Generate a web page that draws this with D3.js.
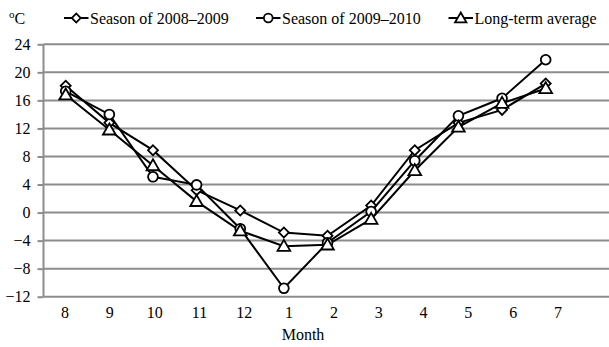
<!DOCTYPE html>
<html><head><meta charset="utf-8">
<script src="https://cdn.jsdelivr.net/npm/d3@7/dist/d3.min.js"></script>
<style>body{margin:0;background:#fff}svg text{font-family:"Liberation Serif","Times New Roman",serif !important;fill:#000}</style>
</head><body><svg id="c" width="609" height="347"></svg>
<script>
const months = ["8","9","10","11","12","1","2","3","4","5","6","7"];
const season0809 = [18.1,12.8,8.9,3.2,0.3,-2.85,-3.3,1.0,8.9,12.8,14.65,18.4];
const season0910 = [17.3,14.0,5.1,3.95,-2.3,-10.8,-4.3,0.15,7.4,13.8,16.3,21.8];
const longTerm   = [16.8,11.8,6.7,1.6,-2.6,-4.8,-4.6,-0.95,6.0,12.2,15.6,17.7];
const yTicks = [-12,-8,-4,0,4,8,12,16,20,24];
const seriesNames = ["Season of 2008\u20132009","Season of 2009\u20132010","Long-term average"];

const svg = d3.select("#c");
const y = d3.scaleLinear().domain([-12,24]).range([296.7,44.3]);
const x = d3.scalePoint().domain(months).range([65.7,545.7]);
const xl = d3.scalePoint().domain(months).range([65,558]);
const left = 43.5, right = 609;

svg.append("g").selectAll("line").data(yTicks).join("line")
  .attr("x1",left).attr("x2",right).attr("y1",d=>y(d)).attr("y2",d=>y(d))
  .attr("stroke","#8c8c8c").attr("stroke-width",2);
const ya = svg.append("g").attr("transform",`translate(${left},0)`)
  .call(d3.axisLeft(y).tickValues(yTicks).tickSize(6).tickPadding(7).tickFormat(d3.format("d")));
ya.attr("font-family",null);
ya.select(".domain").attr("stroke","#8c8c8c").attr("stroke-width",2).attr("d",`M0,${y(24)}V${y(-12)}`);
ya.selectAll(".tick line").attr("stroke","#8c8c8c").attr("stroke-width",2);
ya.selectAll("text").style("font-size","16px").style("font-family","Liberation Serif");
svg.append("g").selectAll("text").data(months).join("text")
  .attr("x",d=>xl(d)).attr("y",318).attr("text-anchor","middle").style("font-size","16px").text(d=>d);
svg.append("text").attr("x",303).attr("y",340).attr("text-anchor","middle").style("font-size","16px").text("Month");
const u = svg.append("text").attr("x",9).attr("y",24).style("font-size","16px");
u.append("tspan").text("o").attr("dy",-6).style("font-size","11px");
u.append("tspan").text("C").attr("dy",6);

const data = [season0809, season0910, longTerm];
const symbols = [d3.symbolSquare, d3.symbolCircle, d3.symbolTriangle];
const sizes = [50, 75, 70];
const rot = [45, 0, 0];
const dy = [0, 0, 1];
const line = d3.line().x((d,i)=>x(months[i])).y(d=>y(d));
data.forEach(s=>{
  svg.append("path").datum(s).attr("d",line).attr("fill","none").attr("stroke","#000").attr("stroke-width",2);
});
data.forEach((s,k)=>{
  svg.append("g").selectAll("path").data(s).join("path")
    .attr("transform",(d,i)=>`translate(${x(months[i])},${y(d)+dy[k]}) rotate(${rot[k]})`)
    .attr("d",d3.symbol(symbols[k],sizes[k])).attr("fill","#fff").attr("stroke","#000").attr("stroke-width",1.8);
});
const legX = [64,256,448.5];
seriesNames.forEach((n,k)=>{
  const g = svg.append("g").attr("transform",`translate(${legX[k]},18)`);
  g.append("line").attr("x1",0).attr("x2",24.5).attr("stroke","#000").attr("stroke-width",2);
  g.append("path").attr("transform",`translate(12.25,${dy[k]}) rotate(${rot[k]})`).attr("d",d3.symbol(symbols[k],sizes[k]*0.8))
    .attr("fill","#fff").attr("stroke","#000").attr("stroke-width",1.8);
  g.append("text").attr("x",26).attr("y",6).style("font-size","16px").text(n);
});
</script></body></html>
